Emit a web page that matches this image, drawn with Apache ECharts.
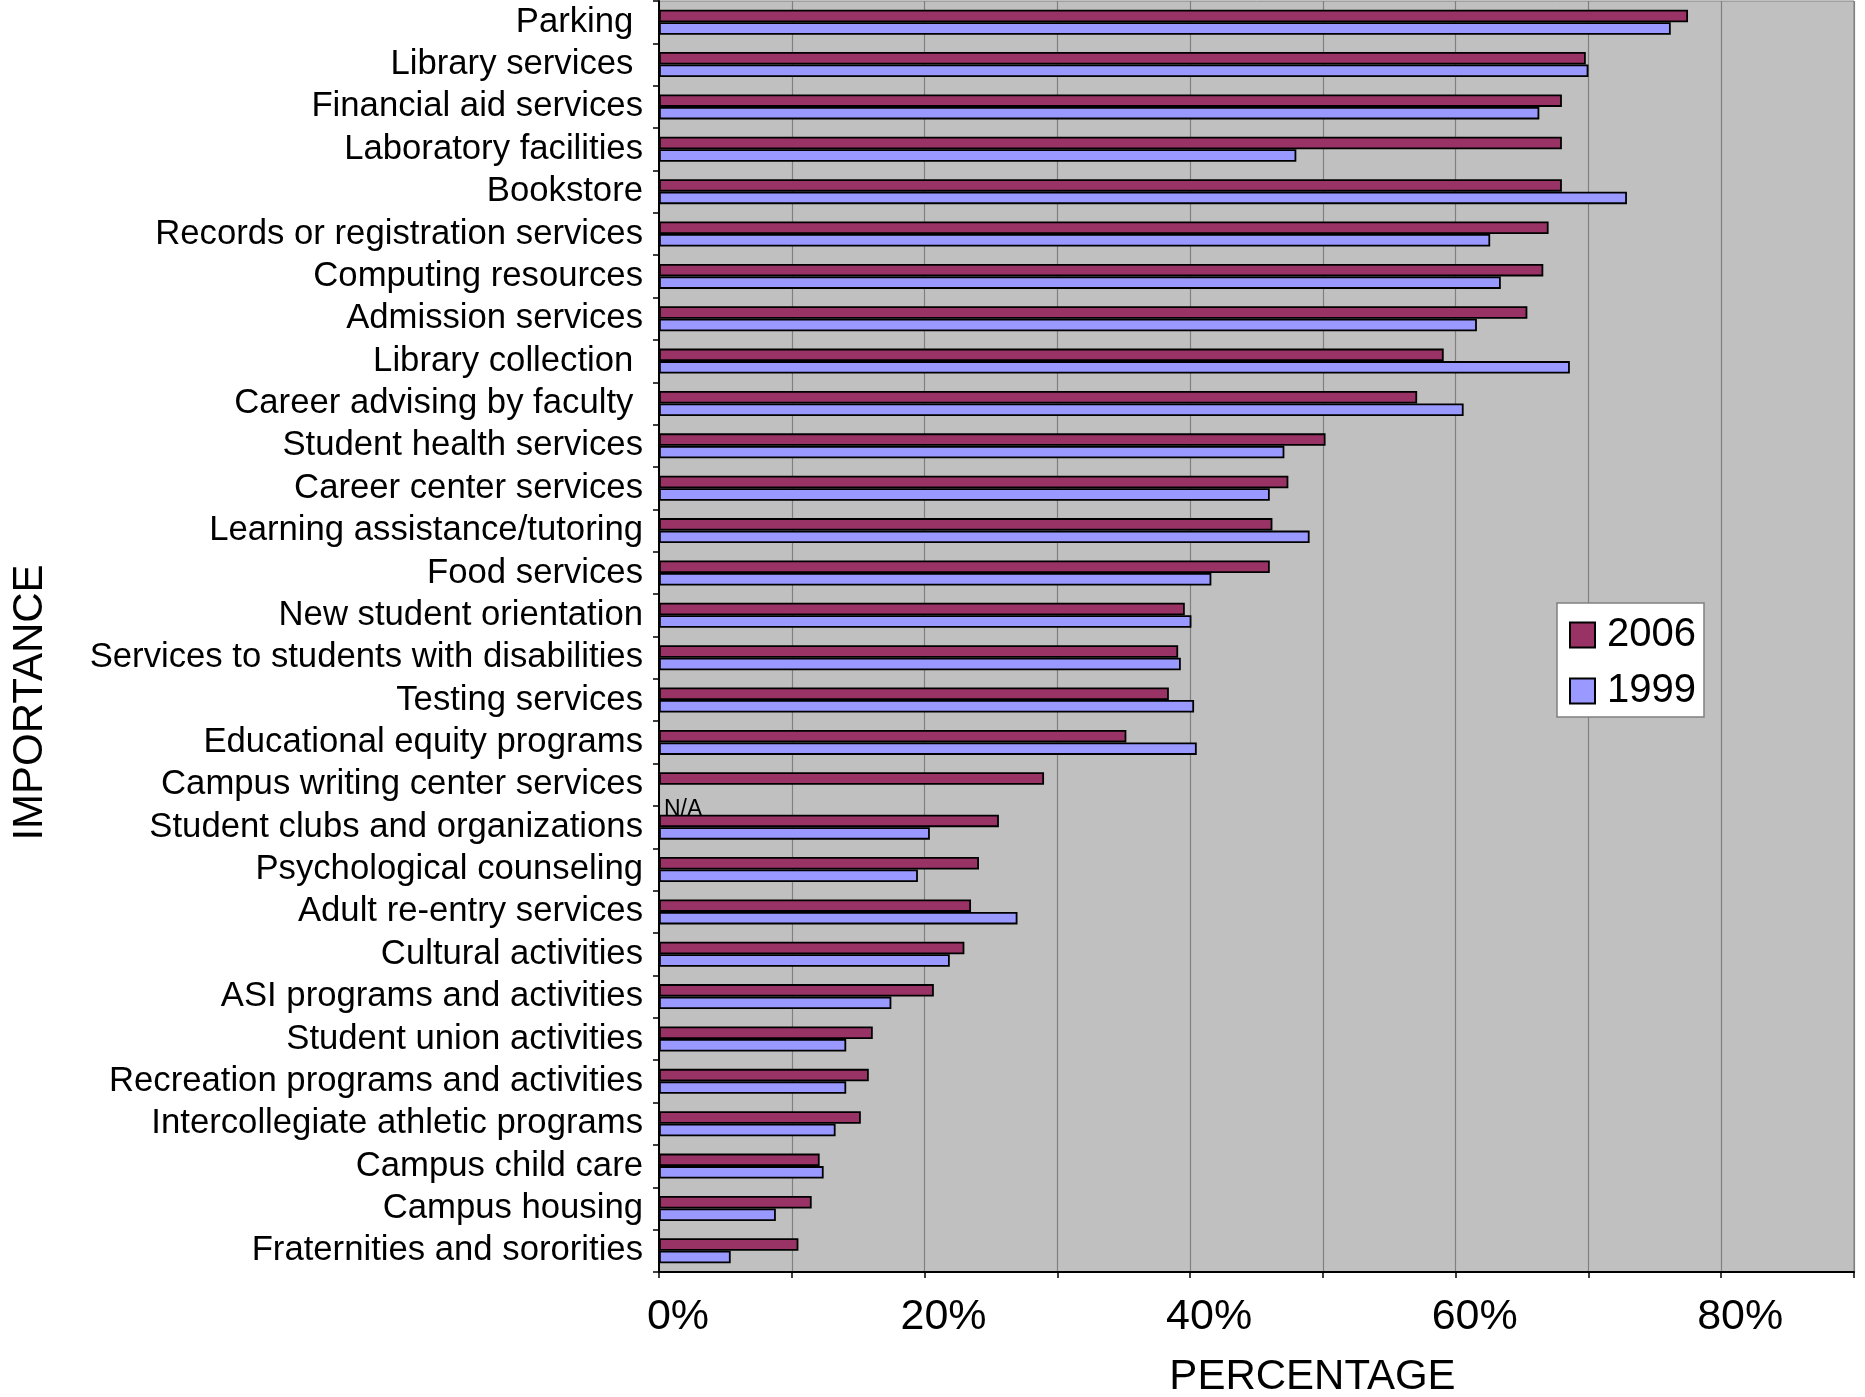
<!DOCTYPE html>
<html>
<head>
<meta charset="utf-8">
<title>Importance of campus services, 2006 vs 1999</title>
<script src="https://cdn.jsdelivr.net/npm/echarts@6/dist/echarts.min.js"></script>
<style>
  html, body { margin: 0; padding: 0; background: #ffffff; }
  #chart { width: 1865px; height: 1397px; }
</style>
</head>
<body>
<div id="chart"></div>
<script>
// Services, listed top to bottom
const categories = [
  'Parking ',
  'Library services ',
  'Financial aid services',
  'Laboratory facilities',
  'Bookstore',
  'Records or registration services',
  'Computing resources',
  'Admission services',
  'Library collection ',
  'Career advising by faculty ',
  'Student health services',
  'Career center services',
  'Learning assistance/tutoring',
  'Food services',
  'New student orientation',
  'Services to students with disabilities',
  'Testing services',
  'Educational equity programs',
  'Campus writing center services',
  'Student clubs and organizations',
  'Psychological counseling',
  'Adult re-entry services',
  'Cultural activities',
  'ASI programs and activities',
  'Student union activities',
  'Recreation programs and activities',
  'Intercollegiate athletic programs',
  'Campus child care',
  'Campus housing',
  'Fraternities and sororities'
];

// Percentage rating each service as important
const values2006 = [
  77.5, 69.8, 68.0, 68.0, 68.0, 67.0, 66.6, 65.4, 59.1, 57.1,
  50.2, 47.4, 46.2, 46.0, 39.6, 39.1, 38.4, 35.2, 29.0, 25.6,
  24.1, 23.5, 23.0, 20.7, 16.1, 15.8, 15.2, 12.1, 11.5, 10.5
];
const values1999 = [
  76.2, 70.0, 66.3, 48.0, 72.9, 62.6, 63.4, 61.6, 68.6, 60.6,
  47.1, 46.0, 49.0, 41.6, 40.1, 39.3, 40.3, 40.5, null, 20.4,
  19.5, 27.0, 21.9, 17.5, 14.1, 14.1, 13.3, 12.4, 8.8, 5.4
];

// Value axis: 0..90 with a gridline every 10, labelled every 20
const xMin = 0;
const xMax = 90;
const xStep = 10;
const xLabelled = [0, 20, 40, 60, 80];

const seriesNames = ['2006', '1999'];
const seriesColors = ['#993366', '#9999FF'];

const FONT = "'Liberation Sans', Arial, Helvetica, sans-serif";

const chart = echarts.init(document.getElementById('chart'), null, { renderer: 'canvas' });

const barStyle = (color) => ({
  color: color,
  borderColor: '#000000',
  borderWidth: 1.8
});

const option = {
  backgroundColor: '#ffffff',
  animation: false,
  textStyle: { fontFamily: FONT, color: '#000000' },
  grid: {
    left: 659,
    right: 11,
    top: 1,
    bottom: 125,
    containLabel: false,
    outerBoundsMode: 'none',
    show: true,
    backgroundColor: '#C0C0C0',
    borderColor: '#808080',
    borderWidth: 1
  },
  legend: {
    orient: 'vertical',
    left: 1557,
    top: 603,
    data: seriesNames,
    icon: 'rect',
    itemWidth: 25,
    itemHeight: 25,
    itemGap: 16,
    padding: [12, 8, 6, 12],
    backgroundColor: '#ffffff',
    borderColor: '#808080',
    borderWidth: 1.5,
    borderRadius: 0,
    textStyle: {
      fontFamily: FONT,
      fontSize: 40,
      color: '#000000',
      padding: [0, 0, 0, 7]
    }
  },
  xAxis: {
    type: 'value',
    min: xMin,
    max: xMax,
    interval: xStep,
    name: 'PERCENTAGE',
    nameLocation: 'middle',
    nameGap: 84,
    nameTextStyle: {
      fontFamily: FONT,
      fontSize: 42,
      color: '#000000',
      padding: [0, 0, 0, 112]
    },
    axisLine: { show: true, lineStyle: { color: '#000000', width: 2 } },
    axisTick: { show: true, length: 6, lineStyle: { color: '#000000', width: 1.5 } },
    splitLine: { show: true, lineStyle: { color: '#808080', width: 1.2 } },
    axisLabel: {
      fontFamily: FONT,
      fontSize: 43,
      color: '#000000',
      margin: 24,
      padding: [0, 0, 0, 38],
      formatter: (v) => (xLabelled.indexOf(v) >= 0 ? v + '%' : '')
    }
  },
  yAxis: {
    type: 'category',
    data: categories,
    inverse: true,
    name: 'IMPORTANCE',
    nameLocation: 'middle',
    nameRotate: 90,
    nameGap: 608,
    nameTextStyle: {
      fontFamily: FONT,
      fontSize: 42,
      color: '#000000',
      padding: [0, 132, 0, 0]
    },
    axisLine: { show: true, lineStyle: { color: '#000000', width: 2 } },
    axisTick: { show: true, length: 6, alignWithLabel: false, lineStyle: { color: '#000000', width: 1.5 } },
    splitLine: { show: false },
    axisLabel: {
      fontFamily: FONT,
      fontSize: 34.7,
      color: '#000000',
      margin: 16,
      interval: 0
    }
  },
  series: [
    {
      name: seriesNames[0],
      type: 'bar',
      data: values2006,
      barWidth: 12.5,
      barGap: '0%',
      itemStyle: barStyle(seriesColors[0])
    },
    {
      name: seriesNames[1],
      type: 'bar',
      data: values1999,
      barWidth: 12.5,
      barGap: '0%',
      itemStyle: barStyle(seriesColors[1]),
      // no 1999 figure for the writing center
      markPoint: {
        symbol: 'rect',
        symbolSize: 0,
        silent: true,
        label: {
          show: true,
          formatter: 'N/A',
          position: 'inside',
          align: 'left',
          verticalAlign: 'middle',
          fontFamily: FONT,
          fontSize: 23,
          color: '#000000',
          offset: [5, 19]
        },
        data: [{ coord: [0, categories[18]] }]
      }
    }
  ]
};

chart.setOption(option);
</script>
</body>
</html>
